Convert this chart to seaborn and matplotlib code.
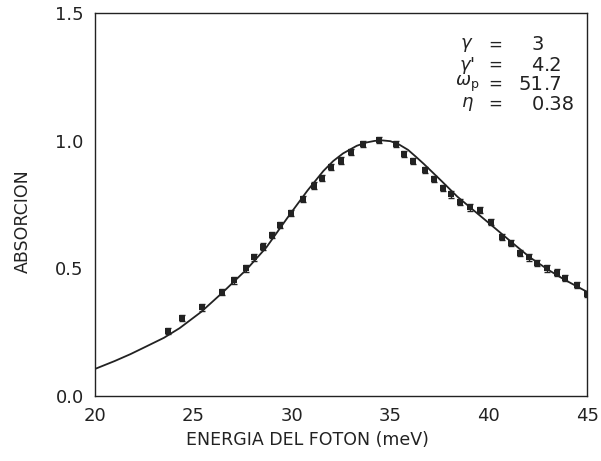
"""
Absorption vs photon energy: measured points and fitted curve.
"""
import matplotlib
matplotlib.use('Agg')
import matplotlib.pyplot as plt
import numpy as np
import pandas as pd
import seaborn as sns
from matplotlib.ticker import MultipleLocator

# measured points (meV, normalized absorption)
energia_pts = [23.73, 24.44, 25.43, 26.47, 27.07, 27.66, 28.07, 28.55, 28.99, 29.41,
               29.95, 30.56, 31.14, 31.53, 32.00, 32.51, 33.00, 33.59, 34.44, 35.29,
               35.72, 36.16, 36.75, 37.21, 37.69, 38.09, 38.53, 39.04, 39.58, 40.09,
               40.65, 41.11, 41.58, 42.04, 42.47, 42.98, 43.49, 43.86, 44.47, 44.97]
absorcion_pts = [0.256, 0.307, 0.347, 0.409, 0.453, 0.500, 0.543, 0.586, 0.630, 0.671,
                 0.718, 0.772, 0.825, 0.854, 0.897, 0.923, 0.956, 0.987, 1.004, 0.987,
                 0.947, 0.920, 0.887, 0.852, 0.814, 0.790, 0.759, 0.739, 0.728, 0.682,
                 0.622, 0.599, 0.562, 0.543, 0.523, 0.500, 0.484, 0.464, 0.435, 0.400]
error_pts = 0.012

# fitted curve
energia_fit = [20.0, 21.0, 21.8, 22.6, 23.5, 24.3, 25.4, 26.5, 27.7, 28.7, 29.9,
               30.8, 31.6, 32.1, 32.6, 33.3, 33.8, 34.2, 34.6, 35.0, 35.4, 35.9,
               36.3, 36.7, 37.6, 38.4, 39.2, 40.1, 41.3, 42.1, 43.0, 43.8, 45.0]
absorcion_fit = [0.106, 0.137, 0.164, 0.194, 0.228, 0.266, 0.330, 0.407, 0.496, 0.582, 0.712,
                 0.806, 0.882, 0.921, 0.951, 0.981, 0.994, 1.000, 1.002, 0.999, 0.988, 0.965,
                 0.938, 0.910, 0.843, 0.782, 0.730, 0.672, 0.594, 0.543, 0.496, 0.458, 0.408]

# fit parameters
param_labels = [r'$\gamma$', r"$\gamma$'", r'$\omega_{\rm p}$', r'$\eta$']
param_values = ['3', '4.2', '51.7', '0.38']

pts = pd.DataFrame({'energia': energia_pts, 'absorcion': absorcion_pts})
fit = pd.DataFrame({'energia': energia_fit, 'absorcion': absorcion_fit})

sns.set_theme(style='white')
plt.rcParams['font.family'] = ['DejaVu Sans']
plt.rcParams['mathtext.fontset'] = 'dejavusans'

INK = '#222222'

fig = plt.figure(figsize=(6.01, 4.61), dpi=100)
ax = fig.add_axes([0.158, 0.141, 0.819, 0.830])

sns.lineplot(data=fit, x='energia', y='absorcion', color=INK, lw=1.3, ax=ax)
ax.errorbar(pts['energia'], pts['absorcion'], yerr=error_pts, fmt='none',
            ecolor=INK, elinewidth=1.0, capsize=2.0, capthick=1.0)
sns.scatterplot(data=pts, x='energia', y='absorcion', marker='s', s=14,
                color=INK, edgecolor=INK, linewidth=0, ax=ax, zorder=3)

ax.set_xlim(20, 45)
ax.set_ylim(0, 1.5)
ax.xaxis.set_major_locator(MultipleLocator(5))
ax.xaxis.set_minor_locator(MultipleLocator(1))
ax.yaxis.set_major_locator(MultipleLocator(0.5))
ax.yaxis.set_minor_locator(MultipleLocator(0.05))
ax.set_xticklabels([f'{v:g}' for v in ax.get_xticks()])
ax.set_yticklabels([f'{v:.1f}' for v in ax.get_yticks()])
ax.tick_params(which='both', direction='in', top=False, right=False,
               colors=INK, labelsize=13, pad=8, width=0.9)
ax.tick_params(which='major', length=8)
ax.tick_params(which='minor', length=4.5)
for sp in ax.spines.values():
    sp.set_color(INK)
    sp.set_linewidth(1.0)

ax.set_xlabel('ENERGIA DEL FOTON (meV)', fontsize=12.5, color=INK)
ax.set_ylabel('ABSORCION', fontsize=12.5, color=INK)
ax.xaxis.set_label_coords(0.431, -0.092)
ax.yaxis.set_label_coords(-0.128, 0.458)

# parameter box, decimal points aligned
row_y = [0.918, 0.865, 0.815, 0.763]
for lab, val, yy in zip(param_labels, param_values, row_y):
    ax.text(0.756, yy, lab, transform=ax.transAxes, ha='center', va='center',
            fontsize=13, color=INK)
    ax.text(0.813, yy, '=', transform=ax.transAxes, ha='center', va='center',
            fontsize=12, color=INK)
    whole, _, frac = val.partition('.')
    ax.text(0.912, yy, whole, transform=ax.transAxes, ha='right', va='center',
            fontsize=14, color=INK)
    if frac:
        ax.text(0.912, yy, '.' + frac, transform=ax.transAxes, ha='left', va='center',
                fontsize=14, color=INK)

fig.savefig('out.png', dpi=100)
